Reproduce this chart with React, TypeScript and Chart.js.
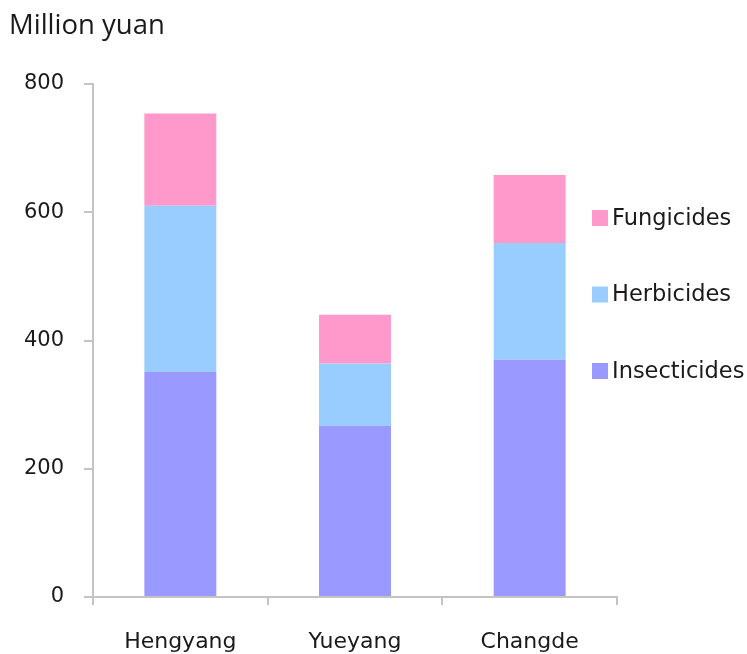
import React, { useEffect, useRef } from "react";
import { Chart, registerables } from "chart.js";

Chart.register(...registerables);

// Pesticide sales by city, million yuan
const cities = ["Hengyang", "Yueyang", "Changde"];
const insecticides = [351, 267, 370];
const herbicides = [259, 97, 182];
const fungicides = [144, 76, 106];
const yTicks = [0, 200, 400, 600, 800];

const seriesNames = ["Insecticides", "Herbicides", "Fungicides"];
const seriesColors = ["#9999FF", "#99CCFF", "#FF99CC"];

const axisColor = "#c4c4c4";
const textColor = "#1a1a1a";

// Draws the unit caption and the right-hand legend (top item = last dataset)
const captionAndLegend = {
  id: "captionAndLegend",
  afterDraw(chart: any) {
    const { ctx } = chart;
    ctx.save();
    ctx.fillStyle = textColor;
    ctx.font = '27.5px "Open Sans", "Noto Sans", sans-serif';
    ctx.textBaseline = "alphabetic";
    ctx.textAlign = "left";
    ctx.fillText("Million yuan", 9, 34);

    const datasets = chart.data.datasets;
    const boxX = 592;
    const box = 16;
    const firstCenter = 218;
    const step = 76.5;
    ctx.font = '22.5px "DejaVu Sans", sans-serif';
    ctx.textBaseline = "middle";
    for (let i = datasets.length - 1, row = 0; i >= 0; i--, row++) {
      const cy = firstCenter + row * step;
      ctx.fillStyle = datasets[i].backgroundColor;
      ctx.fillRect(boxX, cy - box / 2, box, box);
      ctx.fillStyle = textColor;
      ctx.fillText(datasets[i].label, boxX + box + 4, cy + 1);
    }
    ctx.restore();
  },
};

export default function App() {
  const canvasRef = useRef<HTMLCanvasElement | null>(null);

  useEffect(() => {
    if (!canvasRef.current) return;
    const values = [insecticides, herbicides, fungicides];
    const chart = new Chart(canvasRef.current, {
      type: "bar",
      data: {
        labels: cities,
        datasets: seriesNames.map((name, i) => ({
          label: name,
          data: values[i],
          backgroundColor: seriesColors[i],
          borderWidth: 0,
          categoryPercentage: 1,
          barPercentage: 0.412,
        })),
      },
      options: {
        animation: false,
        responsive: false,
        maintainAspectRatio: false,
        layout: { padding: { top: 84, right: 130, left: 0, bottom: 0 } },
        plugins: {
          legend: { display: false },
          tooltip: { enabled: false },
          title: { display: false },
        },
        scales: {
          x: {
            stacked: true,
            afterFit: (scale: any) => {
              scale.height = 57;
            },
            border: { color: axisColor, width: 2 },
            grid: {
              display: true,
              offset: true,
              drawOnChartArea: false,
              drawTicks: true,
              tickLength: 8,
              color: axisColor,
              lineWidth: 2,
            },
            ticks: {
              color: textColor,
              font: { family: '"DejaVu Sans", sans-serif', size: 22 },
              padding: 24,
            },
          },
          y: {
            stacked: true,
            min: 0,
            max: 800,
            afterFit: (scale: any) => {
              scale.width = 93;
            },
            afterBuildTicks: (scale: any) => {
              scale.ticks = yTicks.map((v) => ({ value: v }));
            },
            border: { color: axisColor, width: 2 },
            grid: {
              display: true,
              drawOnChartArea: false,
              drawTicks: true,
              tickLength: 9,
              color: axisColor,
              lineWidth: 2,
            },
            ticks: {
              color: textColor,
              font: { family: '"DejaVu Sans", sans-serif', size: 21 },
              padding: 20,
            },
          },
        },
      },
      plugins: [captionAndLegend],
    });
    return () => chart.destroy();
  }, []);

  return (
    <div style={{ position: "absolute", left: 0, top: 0, width: 747, height: 654, background: "#fff" }}>
      <canvas ref={canvasRef} width={747} height={654} style={{ display: "block" }} />
    </div>
  );
}
